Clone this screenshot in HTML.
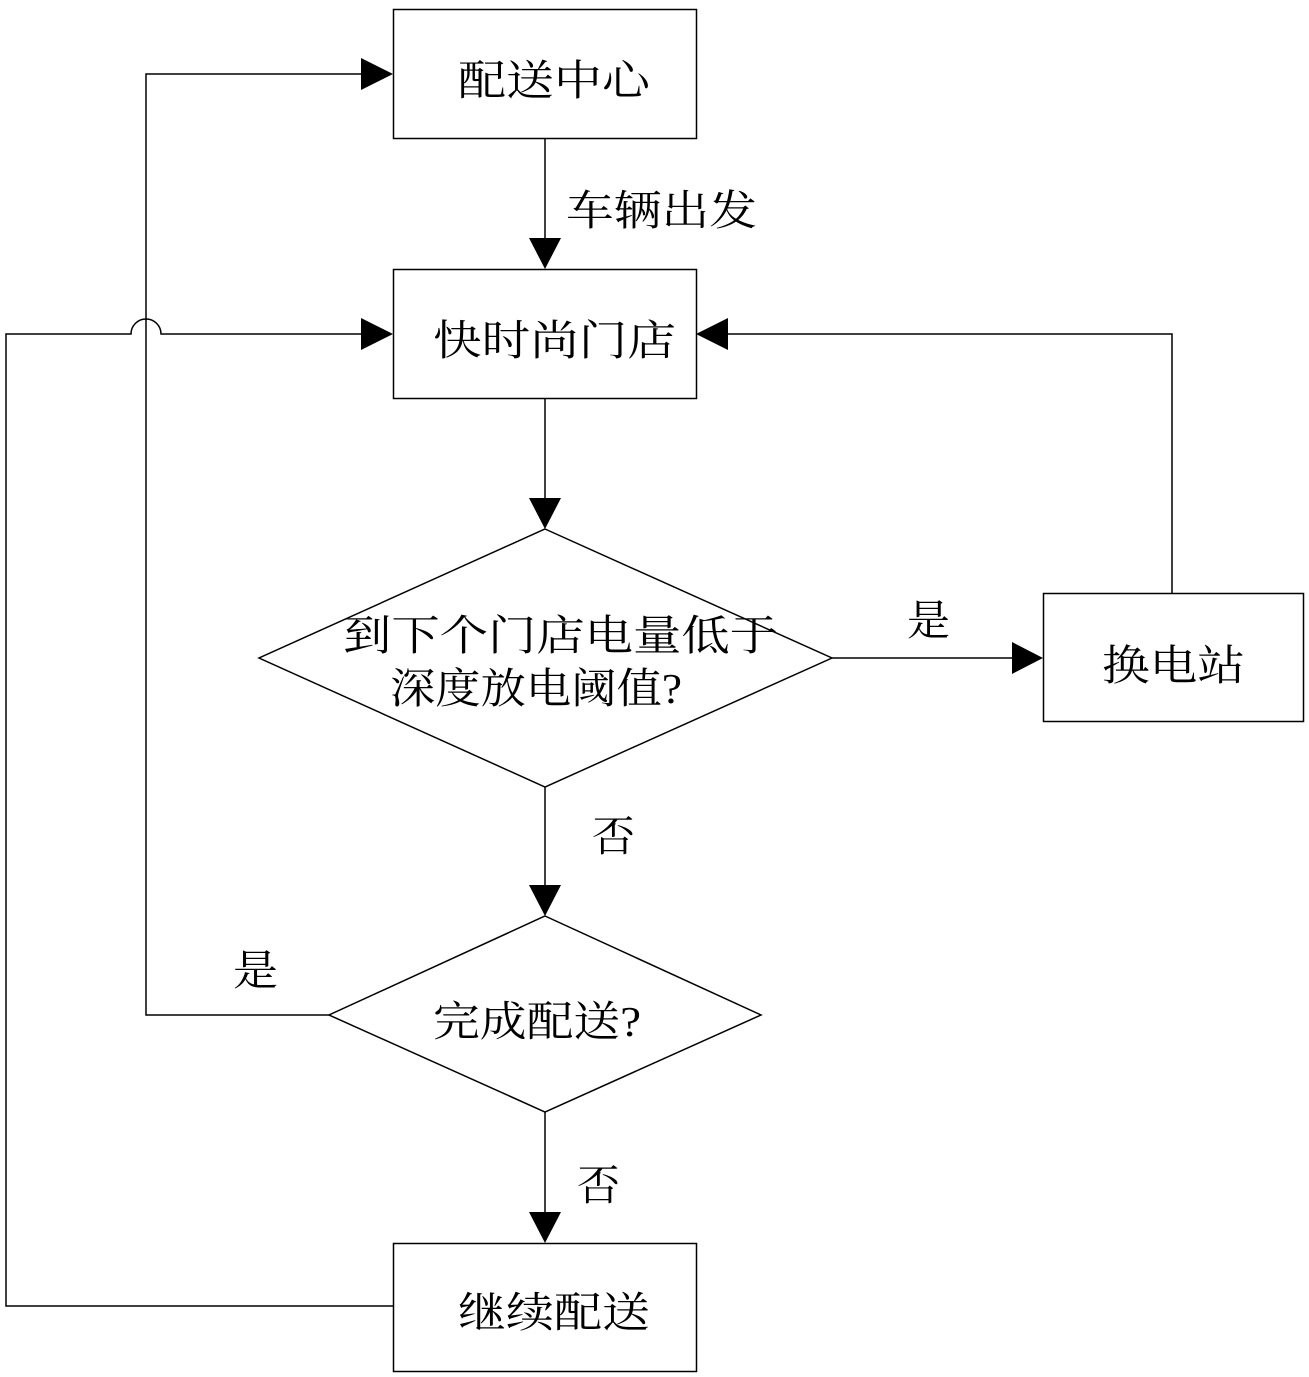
<!DOCTYPE html>
<html><head><meta charset="utf-8"><style>html,body{margin:0;padding:0;background:#fff}svg{display:block}</style></head>
<body>
<svg width="1309" height="1377" viewBox="0 0 1309 1377" xmlns="http://www.w3.org/2000/svg">
<g fill="none" stroke="#000" stroke-width="1.5">
<rect x="393.5" y="9.5" width="303" height="129"/>
<rect x="393.5" y="269.5" width="303" height="129"/>
<rect x="1043.5" y="593.5" width="260" height="128"/>
<rect x="393.5" y="1243.5" width="303" height="128"/>
<polygon points="545,529 832,658 545,787 259,658"/>
<polygon points="545,916 761,1015 545,1112 329,1015"/>
<line x1="545" y1="138" x2="545" y2="240"/>
<line x1="545" y1="398" x2="545" y2="500"/>
<line x1="545" y1="787" x2="545" y2="887"/>
<line x1="545" y1="1112" x2="545" y2="1214"/>
<line x1="832" y1="658" x2="1012" y2="658"/>
<polyline points="329,1015 146,1015 146,74 362,74"/>
<polyline points="1172,593 1172,334 727,334"/>
<path d="M393,1306 H6 V334 H131 A15,15 0 0 1 161,334 H362"/>
</g>
<g fill="#000">
<polygon points="529,238 561,238 545,269"/>
<polygon points="529,498 561,498 545,529"/>
<polygon points="529,885 561,885 545,916"/>
<polygon points="529,1212 561,1212 545,1243"/>
<polygon points="1012,642 1012,674 1043,658"/>
<polygon points="361,58 361,90 393,74"/>
<polygon points="361,318 361,350 393,334"/>
<polygon points="728,318 728,350 696,334"/>
</g>
<g font-family="'Liberation Serif','Noto Serif CJK SC',serif" font-size="42" fill="#000" dominant-baseline="central" lengthAdjust="spacingAndGlyphs">
<text x="458" y="82" textLength="192" lengthAdjust="spacingAndGlyphs">配送中心</text>
<text x="566" y="212" textLength="191" lengthAdjust="spacingAndGlyphs">车辆出发</text>
<text x="433" y="342" textLength="243" lengthAdjust="spacingAndGlyphs">快时尚门店</text>
<text x="343" y="637" textLength="435" lengthAdjust="spacingAndGlyphs">到下个门店电量低于</text>
<text x="390" y="690" textLength="292" lengthAdjust="spacingAndGlyphs">深度放电阈值?</text>
<text x="907" y="622" textLength="43" lengthAdjust="spacingAndGlyphs">是</text>
<text x="1102" y="667" textLength="143" lengthAdjust="spacingAndGlyphs">换电站</text>
<text x="592" y="838" textLength="43" lengthAdjust="spacingAndGlyphs">否</text>
<text x="233" y="972" textLength="45" lengthAdjust="spacingAndGlyphs">是</text>
<text x="433" y="1023" textLength="208" lengthAdjust="spacingAndGlyphs">完成配送?</text>
<text x="577" y="1187" textLength="43" lengthAdjust="spacingAndGlyphs">否</text>
<text x="458" y="1314" textLength="192" lengthAdjust="spacingAndGlyphs">继续配送</text>
</g>
</svg>
</body></html>
